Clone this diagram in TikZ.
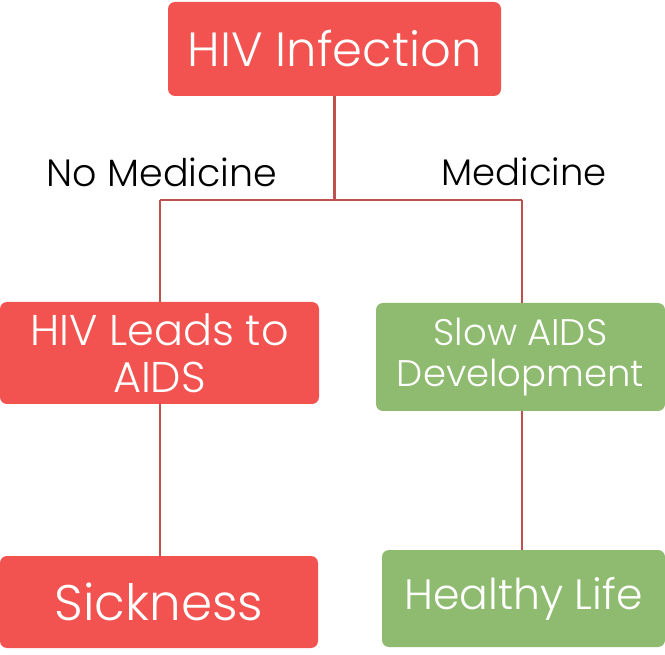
\documentclass[tikz,border=0pt]{standalone}
\usepackage{fontspec}
\setmainfont{Poppins Light}
\definecolor{boxred}{HTML}{F25350}
\definecolor{boxgreen}{HTML}{8FBB70}
\definecolor{linered}{HTML}{C0504D}
\begin{document}
\begin{tikzpicture}[x=1pt,y=-1pt,
  box/.style={rectangle, rounded corners=7pt, text=white, align=center, inner sep=0pt},
  redbox/.style={box, fill=boxred},
  greenbox/.style={box, fill=boxgreen},
  conn/.style={draw=linered, line width=2.4pt},
  lbl/.style={text=black, inner sep=0pt}]
\useasboundingbox (0,0) rectangle (665,655);
\node[redbox, minimum width=333pt, minimum height=94pt, font=\fontsize{48}{53}\selectfont] (top) at (334.5,49) {HIV Infection};
\node[redbox, minimum width=319pt, minimum height=102pt, font=\fontsize{43}{47}\selectfont] (lmid) at (159.5,353) {HIV Leads to\\AIDS};
\node[greenbox, minimum width=289pt, minimum height=108pt, font=\fontsize{37}{41}\selectfont] (rmid) at (520.5,357) {Slow AIDS\\Development};
\node[redbox, minimum width=318pt, minimum height=92pt, font=\fontsize{50}{55}\selectfont] (lbot) at (159,602) {Sickness};
\node[greenbox, minimum width=283pt, minimum height=97pt, font=\fontsize{42.5}{47}\selectfont] (rbot) at (523.5,598.5) {Healthy Life};
\node[lbl, font=\fontsize{38}{41}\selectfont] (nomed) at (162,172.5) {No Medicine};
\node[lbl, font=\fontsize{37}{40}\selectfont] (med) at (524,171.5) {Medicine};
\coordinate (j) at (334.5,200);
\coordinate (jl) at (160,200);
\coordinate (jr) at (522,200);
\draw[conn] (top.south) -- (j);
\draw[conn] (jl) -- (jr);
\draw[conn] (jl) -- (jl |- lmid.north);
\draw[conn] (jr) -- (jr |- rmid.north);
\draw[conn] (lmid.south -| jl) -- (jl |- lbot.north);
\draw[conn] (rmid.south -| jr) -- (jr |- rbot.north);
\end{tikzpicture}
\end{document}
